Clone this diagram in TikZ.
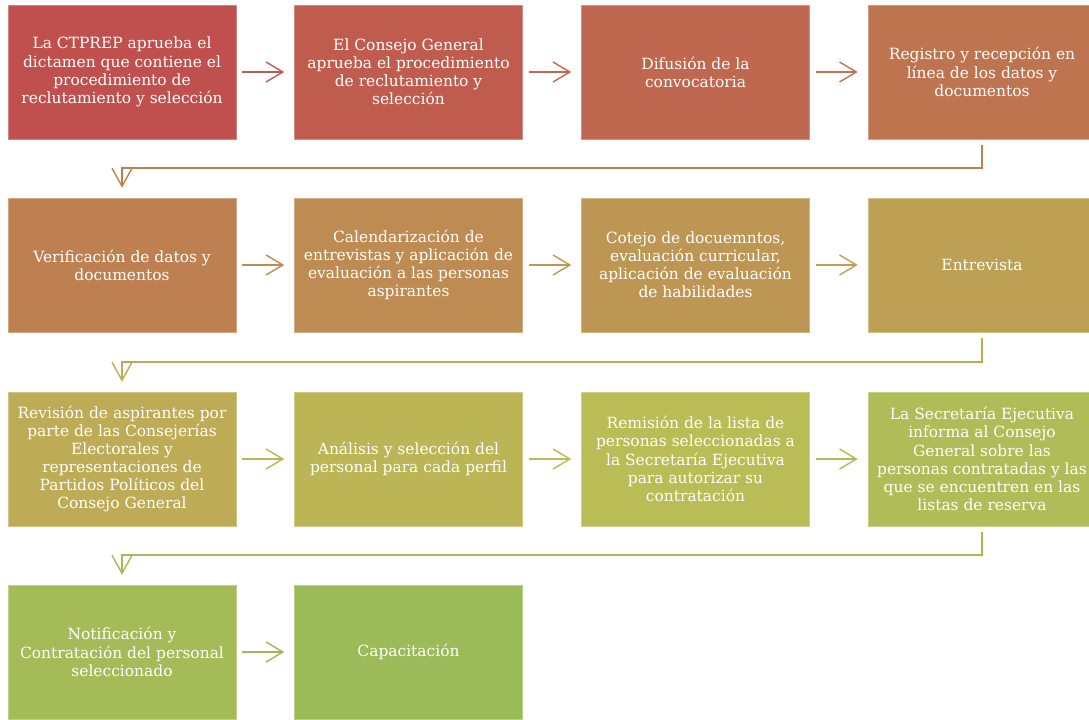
\documentclass[tikz,border=0pt]{standalone}
\usepackage{fontspec}
\setmainfont{DejaVu Serif}
\usepackage{tikz}
\usetikzlibrary{calc}
\usetikzlibrary{arrows.meta}

\definecolor{etapa1}{HTML}{C0504D}
\definecolor{etapa2}{HTML}{C05C4E}
\definecolor{etapa3}{HTML}{BF684F}
\definecolor{etapa4}{HTML}{BF7450}
\definecolor{etapa5}{HTML}{BE8051}
\definecolor{etapa6}{HTML}{BE8B52}
\definecolor{etapa7}{HTML}{BE9653}
\definecolor{etapa8}{HTML}{BDA053}
\definecolor{etapa9}{HTML}{BDAB55}
\definecolor{etapa10}{HTML}{BCB555}
\definecolor{etapa11}{HTML}{BABC56}
\definecolor{etapa12}{HTML}{AFBC57}
\definecolor{etapa13}{HTML}{A5BB58}
\definecolor{etapa14}{HTML}{9BBB59}

\begin{document}
\begin{tikzpicture}[
  etapa/.style={fill=#1, draw=#1!70!white, line width=0.4pt, text=white,
    minimum width=5.7cm, minimum height=3.35cm, align=center,
    inner sep=2pt, font=\fontsize{11}{12.9}\selectfont},
  flecha/.style={draw=#1, line width=1.4pt,
    -{Straight Barb[length=0.42cm, width=0.5cm, line width=1pt]},
    shorten <=0.15cm, shorten >=0.25cm},
  codo/.style={draw=#1, line width=1.4pt,
    -{Straight Barb[length=0.45cm, width=0.5cm, line width=1pt]}}
]

\useasboundingbox (0,0) rectangle (27.225,-17.975);

% fila 1
\node[etapa=etapa1] (dictamen) at (3.05,-1.8) {La CTPREP aprueba el\\dictamen que contiene el\\procedimiento de\\reclutamiento y selección};
\node[etapa=etapa2] (aprueba) at (10.2125,-1.8) {El Consejo General\\aprueba el procedimiento\\de reclutamiento y\\selección};
\node[etapa=etapa3] (difusion) at (17.3875,-1.8) {Difusión de la\\convocatoria};
\node[etapa=etapa4] (registro) at (24.55,-1.8) {Registro y recepción en\\línea de los datos y\\documentos};

% fila 2
\node[etapa=etapa5] (verifica) at (3.05,-6.625) {Verificación de datos y\\documentos};
\node[etapa=etapa6] (calendario) at (10.2125,-6.625) {Calendarización de\\entrevistas y aplicación de\\evaluación a las personas\\aspirantes};
\node[etapa=etapa7] (cotejo) at (17.3875,-6.625) {Cotejo de docuemntos,\\evaluación curricular,\\aplicación de evaluación\\de habilidades};
\node[etapa=etapa8] (entrevista) at (24.55,-6.625) {Entrevista};

% fila 3
\node[etapa=etapa9] (revision) at (3.05,-11.475) {Revisión de aspirantes por\\parte de las Consejerías\\Electorales y\\representaciones de\\Partidos Políticos del\\Consejo General};
\node[etapa=etapa10] (analisis) at (10.2125,-11.475) {Análisis y selección del\\personal para cada perfil};
\node[etapa=etapa11] (remision) at (17.3875,-11.475) {Remisión de la lista de\\personas seleccionadas a\\la Secretaría Ejecutiva\\para autorizar su\\contratación};
\node[etapa=etapa12] (informa) at (24.55,-11.475) {La Secretaría Ejecutiva\\informa al Consejo\\General sobre las\\personas contratadas y las\\que se encuentren en las\\listas de reserva};

% fila 4
\node[etapa=etapa13] (contrata) at (3.05,-16.3) {Notificación y\\Contratación del personal\\seleccionado};
\node[etapa=etapa14] (capacita) at (10.2125,-16.3) {Capacitación};

% flechas
\draw[flecha=etapa2] (dictamen) -- (aprueba);
\draw[flecha=etapa3] (aprueba) -- (difusion);
\draw[flecha=etapa4] (difusion) -- (registro);
\draw[codo=etapa5] ([yshift=-0.15cm]registro.south) |- ([yshift=0.74cm]verifica.north) -- ([yshift=0.25cm]verifica.north);

\draw[flecha=etapa6] (verifica) -- (calendario);
\draw[flecha=etapa7] (calendario) -- (cotejo);
\draw[flecha=etapa8] (cotejo) -- (entrevista);
\draw[codo=etapa9] ([yshift=-0.15cm]entrevista.south) |- ([yshift=0.74cm]revision.north) -- ([yshift=0.25cm]revision.north);

\draw[flecha=etapa10] (revision) -- (analisis);
\draw[flecha=etapa11] (analisis) -- (remision);
\draw[flecha=etapa12] (remision) -- (informa);
\draw[codo=etapa13] ([yshift=-0.15cm]informa.south) |- ([yshift=0.74cm]contrata.north) -- ([yshift=0.25cm]contrata.north);

\draw[flecha=etapa14] (contrata) -- (capacita);

\end{tikzpicture}
\end{document}
